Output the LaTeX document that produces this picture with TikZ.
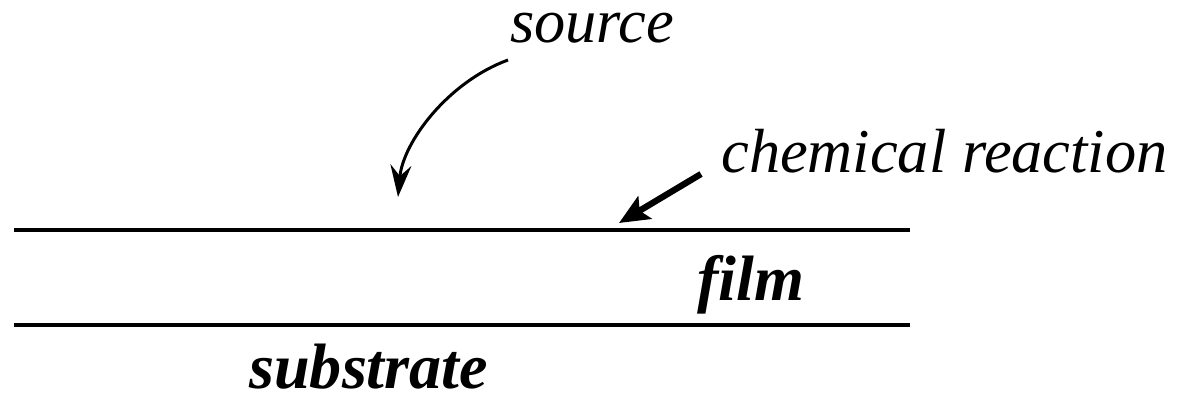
\documentclass[tikz,border=0pt]{standalone}
\usepackage{fontspec}
\setmainfont{Liberation Serif}
\usetikzlibrary{arrows.meta}
\begin{document}
\begin{tikzpicture}[x=0.02cm,y=-0.02cm,
  lbl/.style={inner sep=0pt,anchor=base west,font=\fontsize{35.5pt}{40pt}\selectfont\itshape},
  blbl/.style={inner sep=0pt,anchor=base west,font=\fontsize{36.5pt}{40pt}\selectfont\bfseries\itshape},
  layer/.style={line width=2.8pt},
  thinarrow/.style={line width=1.7pt,-{Stealth[length=0.64cm,width=0.42cm,inset=0.22cm]}},
  thickarrow/.style={line width=3.6pt,-{Stealth[length=0.6cm,width=0.52cm,inset=0.12cm]}}]
\useasboundingbox (0,0) rectangle (1183,397);
\node[lbl] (source) at (510,42) {source};
\node[lbl] (chem) at (721,172) {chemical reaction};
\node[blbl] (film) at (697,300) {film};
\node[blbl] (substrate) at (249,388) {substrate};
\coordinate (tl) at (14,230);
\coordinate (tr) at (910,230);
\coordinate (bl) at (14,325);
\coordinate (br) at (910,325);
\draw[layer] (tl) -- (tr);
\draw[layer] (bl) -- (br);
\coordinate (srcstart) at (508,60);
\coordinate (srcend) at (398,197);
\draw[thinarrow] (srcstart) .. controls (448,82) and (403,142) .. (srcend);
\coordinate (chemstart) at (701,174);
\coordinate (chemend) at (619,223);
\draw[thickarrow] (chemstart) -- (chemend);
\end{tikzpicture}
\end{document}
